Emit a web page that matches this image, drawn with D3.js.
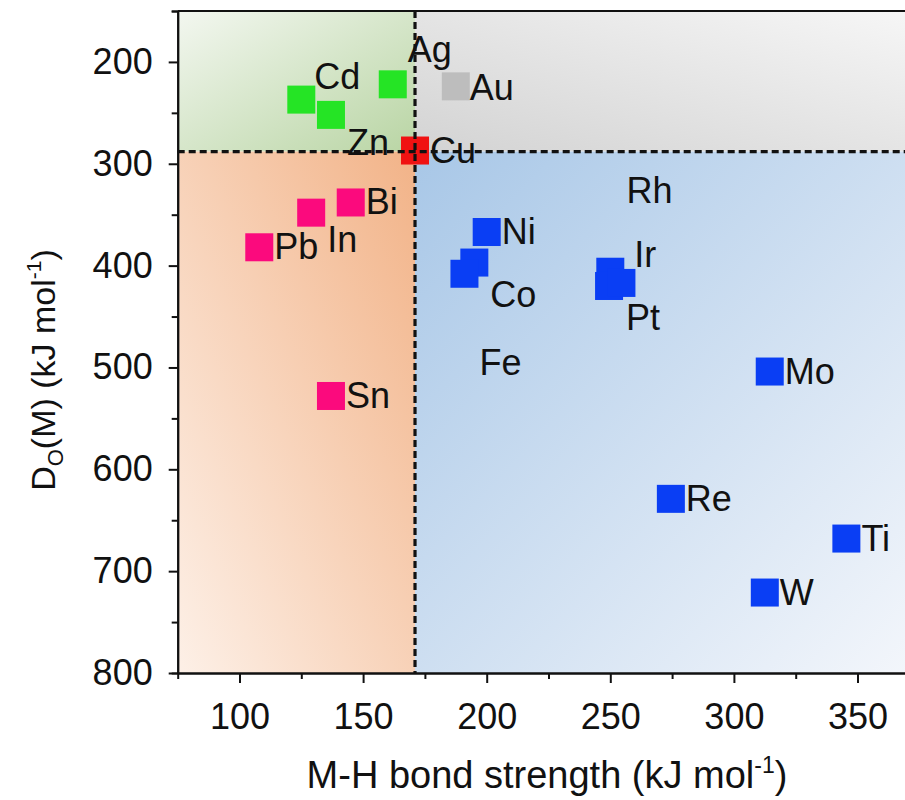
<!DOCTYPE html>
<html>
<head>
<meta charset="utf-8">
<script src="https://cdn.jsdelivr.net/npm/d3@7"></script>
<style>
  body { margin: 0; background: #fff; }
  text { font-family: "Liberation Sans", Arial, Helvetica, sans-serif; fill: #111; }
</style>
</head>
<body>
<svg id="chart" width="905" height="800"></svg>
<script>
// Metal descriptors: M-H bond strength vs. oxide formation energy D_O(M)
const metals = ["Cd", "Zn", "Ag", "Au", "Cu", "Pb", "In", "Bi", "Sn",
                "Ni", "Co", "Fe", "Ir", "Pt", "Rh", "Mo", "Re", "Ti", "W"];
const mhBondStrength = [125, 137, 162, 187.5, 171, 108, 129, 145, 137,
                        200, 195, 191, 250, 249.5, 254.5, 314.5, 274.5, 345.5, 312.5];
const oxygenEnergy = [237, 252, 222, 224, 287, 382, 348, 338, 528,
                      367, 397, 408, 406, 420, 417, 504, 629, 668, 721];
const metalGroup = ["weakBoth", "weakBoth", "weakBoth", "noble", "boundary",
                    "weakH", "weakH", "weakH", "weakH",
                    "strongBoth", "strongBoth", "strongBoth", "strongBoth", "strongBoth",
                    "strongBoth", "strongBoth", "strongBoth", "strongBoth", "strongBoth"];

const xTickValues = [100, 150, 200, 250, 300, 350];
const yTickValues = [200, 300, 400, 500, 600, 700, 800];
const xDomain = [75, 370];
const yDomain = [150, 800];
const bondThreshold = 171;
const energyThreshold = 288;

const groupColor = {
  weakBoth: "#25e425",
  noble: "#bdbdbd",
  boundary: "#f01212",
  weakH: "#fb0a7d",
  strongBoth: "#0a3ef4"
};

// label placement relative to marker centre (default: to the right)
const labelShift = {
  Cd: [13, -11], Zn: [16, 40], Ag: [15, -22], Au: [14, 14],
  In: [16, 39], Co: [16, 44], Fe: [15, 101],
  Ir: [24, -5], Pt: [17, 44], Rh: [5, -80]
};

const svg = d3.select("#chart");
const plotLeft = 177.7, plotTop = 11, plotBottom = 673;
const x = d3.scaleLinear().domain(xDomain).range([plotLeft, plotLeft + (xDomain[1] - xDomain[0]) * 2.472]);
const y = d3.scaleLinear().domain(yDomain).range([plotTop, plotBottom]);

// quadrant gradients
const defs = svg.append("defs");
function grad(id, x1, y1, x2, y2, c1, c2) {
  const g = defs.append("linearGradient").attr("id", id)
    .attr("x1", x1).attr("y1", y1).attr("x2", x2).attr("y2", y2);
  g.append("stop").attr("offset", "0%").attr("stop-color", c1);
  g.append("stop").attr("offset", "100%").attr("stop-color", c2);
}
grad("gGreen", 0, 0, 1, 1, "#f3f7f0", "#b9d5a4");
grad("gGray", 1, 0, 0, 1, "#f6f6f6", "#d3d3d3");
grad("gOrange", 0, 1, 1, 0, "#fdf0e7", "#f2b388");
grad("gBlue", 1, 1, 0, 0, "#f3f6fb", "#a8c7e7");

const xa = x.range(), ya = y.range();
const xc = x(bondThreshold), yc = y(energyThreshold);
const quads = [
  { f: "url(#gGreen)", x0: xa[0], x1: xc, y0: ya[0], y1: yc },
  { f: "url(#gGray)", x0: xc, x1: xa[1], y0: ya[0], y1: yc },
  { f: "url(#gOrange)", x0: xa[0], x1: xc, y0: yc, y1: ya[1] },
  { f: "url(#gBlue)", x0: xc, x1: xa[1], y0: yc, y1: ya[1] }
];
svg.append("g").selectAll("rect").data(quads).join("rect")
  .attr("x", d => d.x0).attr("y", d => d.y0)
  .attr("width", d => d.x1 - d.x0).attr("height", d => d.y1 - d.y0)
  .attr("fill", d => d.f);

// markers
const pts = metals.map((m, i) => ({ name: m, bx: mhBondStrength[i], oy: oxygenEnergy[i], g: metalGroup[i] }));
const size = 28;
svg.append("g").selectAll("rect").data(pts).join("rect")
  .attr("x", d => x(d.bx) - size / 2)
  .attr("y", d => y(d.oy) - size / 2)
  .attr("width", size).attr("height", size)
  .attr("fill", d => groupColor[d.g]);

// threshold lines
svg.append("line")
  .attr("x1", xc).attr("x2", xc).attr("y1", ya[0]).attr("y2", ya[1])
  .attr("stroke", "#111").attr("stroke-width", 3.2).attr("stroke-dasharray", "7,4");
svg.append("line")
  .attr("x1", xa[0]).attr("x2", xa[1]).attr("y1", yc).attr("y2", yc)
  .attr("stroke", "#111").attr("stroke-width", 3.2).attr("stroke-dasharray", "7,4");

// labels
svg.append("g").selectAll("text").data(pts).join("text")
  .attr("x", d => x(d.bx) + (labelShift[d.name] || [15, 12])[0])
  .attr("y", d => y(d.oy) + (labelShift[d.name] || [15, 12])[1])
  .attr("font-size", 36)
  .text(d => d.name);

// axes
function styleAxis(g) {
  g.selectAll(".domain").attr("stroke", "#111").attr("stroke-width", 2);
  g.selectAll(".tick line").attr("stroke", "#111").attr("stroke-width", 2);
  g.selectAll(".tick text").attr("font-size", 36).attr("fill", "#111")
    .attr("font-family", "Liberation Sans, Arial, sans-serif");
}
const xMinor = d3.range(125, xDomain[1], 50);
const yMinor = d3.range(150, 800, 100);

svg.append("g").attr("transform", `translate(0,${plotBottom})`)
  .call(d3.axisBottom(x).tickValues(xMinor).tickSize(6).tickFormat(""))
  .call(styleAxis);
svg.append("g").attr("transform", `translate(0,${plotBottom})`)
  .call(d3.axisBottom(x).tickValues(xTickValues).tickSize(10).tickPadding(20).tickSizeOuter(0))
  .call(styleAxis);
svg.append("g").attr("transform", `translate(${plotLeft},0)`)
  .call(d3.axisLeft(y).tickValues(yMinor).tickSize(6).tickFormat(""))
  .call(styleAxis);
svg.append("g").attr("transform", `translate(${plotLeft},0)`)
  .call(d3.axisLeft(y).tickValues(yTickValues).tickSize(9).tickPadding(16).tickSizeOuter(0))
  .call(styleAxis);

// top frame
svg.append("line").attr("x1", xa[0]).attr("x2", xa[1]).attr("y1", ya[0]).attr("y2", ya[0])
  .attr("stroke", "#111").attr("stroke-width", 2);

// axis titles
const xt = svg.append("text").attr("x", 547).attr("y", 788)
  .attr("text-anchor", "middle").attr("font-size", 38);
xt.append("tspan").text("M-H bond strength (kJ mol");
xt.append("tspan").attr("dy", -15).attr("font-size", 23).text("-1");
xt.append("tspan").attr("dy", 15).text(")");

const yt = svg.append("text").attr("transform", "translate(55,370) rotate(-90)")
  .attr("text-anchor", "middle").attr("font-size", 34);
yt.append("tspan").text("D");
yt.append("tspan").attr("dy", 8).attr("font-size", 22).text("O");
yt.append("tspan").attr("dy", -8).text("(M) (kJ mol");
yt.append("tspan").attr("dy", -14).attr("font-size", 21).text("-1");
yt.append("tspan").attr("dy", 14).text(")");
</script>
</body>
</html>
